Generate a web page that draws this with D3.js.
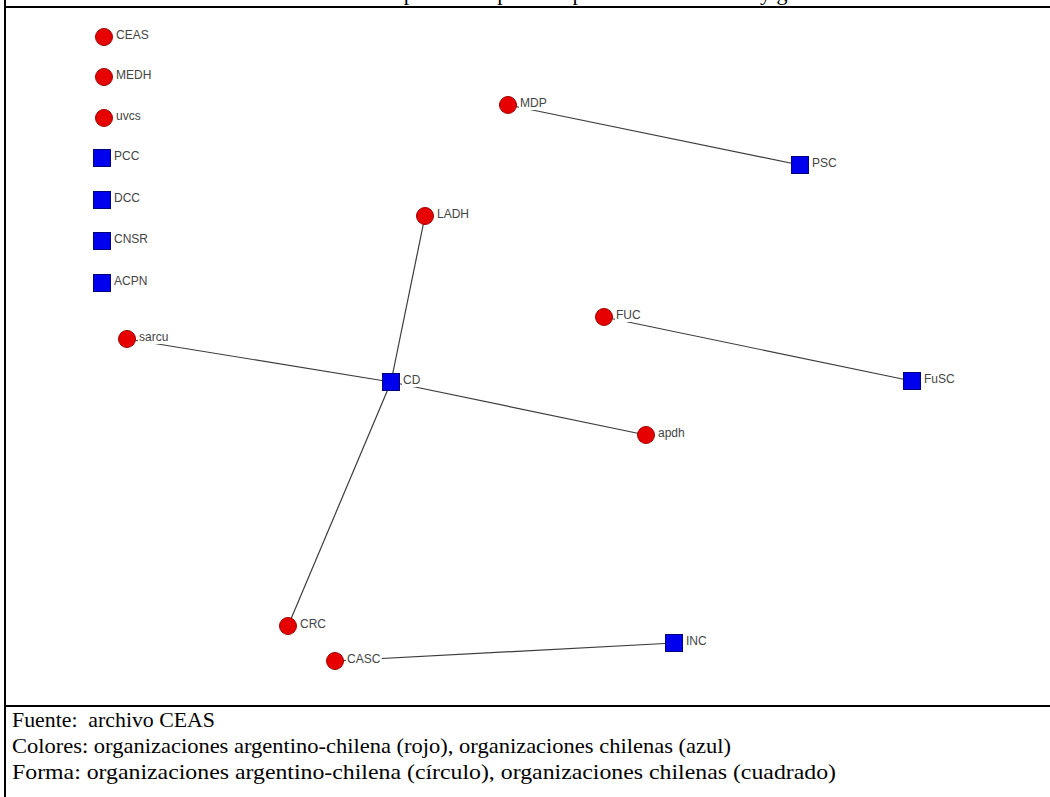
<!DOCTYPE html>
<html>
<head>
<meta charset="utf-8">
<script src="https://cdn.jsdelivr.net/npm/d3@7"></script>
<style>
  body { margin: 0; background: #fff; }
  svg { display: block; }
</style>
</head>
<body>
<div id="red"></div>
<script>
// nodes of the network (layout position)
var nodeNames = ["CEAS", "MEDH", "uvcs", "PCC", "DCC", "CNSR", "ACPN", "sarcu", "CD", "LADH",
                 "apdh", "CRC", "MDP", "PSC", "FUC", "FuSC", "CASC", "INC"];
// ac = argentino-chilena (rojo, circulo), ch = chilena (azul, cuadrado)
var nodeTypes = ["ac", "ac", "ac", "ch", "ch", "ch", "ch", "ac", "ch", "ac",
                 "ac", "ac", "ac", "ch", "ac", "ch", "ac", "ch"];
var nodeX = [99, 99, 99, 97, 97, 97, 97, 122, 386, 420, 641, 283, 503, 795, 599, 907, 330, 669];
var nodeY = [30, 70, 111, 151, 193, 234, 276, 332, 375, 209, 428, 619, 98, 158, 310, 374, 654, 636];

// ties between organizations
var tieFrom = ["MDP", "LADH", "sarcu", "CD", "CD", "FUC", "CASC"];
var tieTo   = ["PSC", "CD",   "CD",    "apdh", "CRC", "FuSC", "INC"];

// title is cut off in the source, only the descenders are seen
var titleText = "Red de campañas compartidas por comités chilenos y género";
var notes = [
  "Fuente:  archivo CEAS",
  "Colores: organizaciones argentino-chilena (rojo), organizaciones chilenas (azul)",
  "Forma: organizaciones argentino-chilena (círculo), organizaciones chilenas (cuadrado)"
];
// width of each note line in the picture
var noteWidths = [203, 719, 824];

var width = 1050, height = 797;
var frame = {left: 5, top: 7, bottom: 706};

var svg = d3.select("#red").append("svg")
  .attr("width", width)
  .attr("height", height);

svg.append("text")
  .attr("x", 300)
  .attr("y", -0.5)
  .style("font-family", "Liberation Serif, serif")
  .style("font-size", "22px")
  .text(titleText);

// scales for the layout (frame-relative coordinates)
var x = d3.scaleLinear().domain([0, 1040]).range([frame.left, frame.left + 1040]);
var y = d3.scaleLinear().domain([0, 690]).range([frame.top, frame.top + 690]);

var nodes = nodeNames.map(function(n, i) {
  return {name: n, type: nodeTypes[i], x: nodeX[i], y: nodeY[i]};
});
var byName = {};
nodes.forEach(function(d) { byName[d.name] = d; });
var ties = tieFrom.map(function(f, i) { return {source: byName[f], target: byName[tieTo[i]]}; });

var net = svg.append("g");

// lines
net.selectAll("line.tie")
  .data(ties)
  .enter().append("line")
    .attr("class", "tie")
    .attr("x1", function(d) { return x(d.source.x); })
    .attr("y1", function(d) { return y(d.source.y); })
    .attr("x2", function(d) { return x(d.target.x); })
    .attr("y2", function(d) { return y(d.target.y); })
    .style("stroke", "#3c3c3c")
    .style("stroke-width", 1.2);

// labels with a white box (they hide the line underneath)
var labels = net.selectAll("g.lab")
  .data(nodes)
  .enter().append("g")
    .attr("class", "lab")
    .attr("transform", function(d) { return "translate(" + (x(d.x) + 12) + "," + (y(d.y) + 2) + ")"; });
labels.append("rect").style("fill", "white");
labels.append("text")
  .style("font-family", "Liberation Sans, Arial, sans-serif")
  .style("font-size", "12px")
  .style("fill", "#444")
  .text(function(d) { return d.name; });
labels.each(function() {
  var g = d3.select(this);
  var b = g.select("text").node().getBBox();
  g.select("rect")
    .attr("x", b.x - 1).attr("y", b.y)
    .attr("width", b.width + 2).attr("height", b.height);
});

// red circles
net.selectAll("circle.ac")
  .data(nodes.filter(function(d) { return d.type == "ac"; }))
  .enter().append("circle")
    .attr("class", "ac")
    .attr("cx", function(d) { return x(d.x); })
    .attr("cy", function(d) { return y(d.y); })
    .attr("r", 8.5)
    .style("fill", "#e60000")
    .style("stroke", "#a00000")
    .style("stroke-width", 1);

// blue squares
var side = 17;
net.selectAll("rect.ch")
  .data(nodes.filter(function(d) { return d.type == "ch"; }))
  .enter().append("rect")
    .attr("class", "ch")
    .attr("x", function(d) { return x(d.x) - side / 2; })
    .attr("y", function(d) { return y(d.y) - side / 2; })
    .attr("width", side)
    .attr("height", side)
    .style("fill", "#0000ee")
    .style("stroke", "#00007a")
    .style("stroke-width", 1);

// frame rules
svg.append("line").attr("x1", frame.left).attr("x2", frame.left).attr("y1", 0).attr("y2", height)
  .style("stroke", "#000").style("stroke-width", 2);
svg.append("line").attr("x1", frame.left).attr("x2", width).attr("y1", frame.top).attr("y2", frame.top)
  .style("stroke", "#000").style("stroke-width", 2);
svg.append("line").attr("x1", frame.left).attr("x2", width).attr("y1", frame.bottom).attr("y2", frame.bottom)
  .style("stroke", "#000").style("stroke-width", 2);

// notes under the graph
svg.selectAll("text.note")
  .data(notes)
  .enter().append("text")
    .attr("class", "note")
    .attr("x", 12)
    .attr("y", function(d, i) { return 727 + i * 26; })
    .attr("textLength", function(d, i) { return noteWidths[i]; })
    .attr("lengthAdjust", "spacingAndGlyphs")
    .style("font-family", "Liberation Serif, serif")
    .style("font-size", "22px")
    .style("white-space", "pre")
    .style("fill", "#000")
    .text(function(d) { return d; });
</script>
</body>
</html>
